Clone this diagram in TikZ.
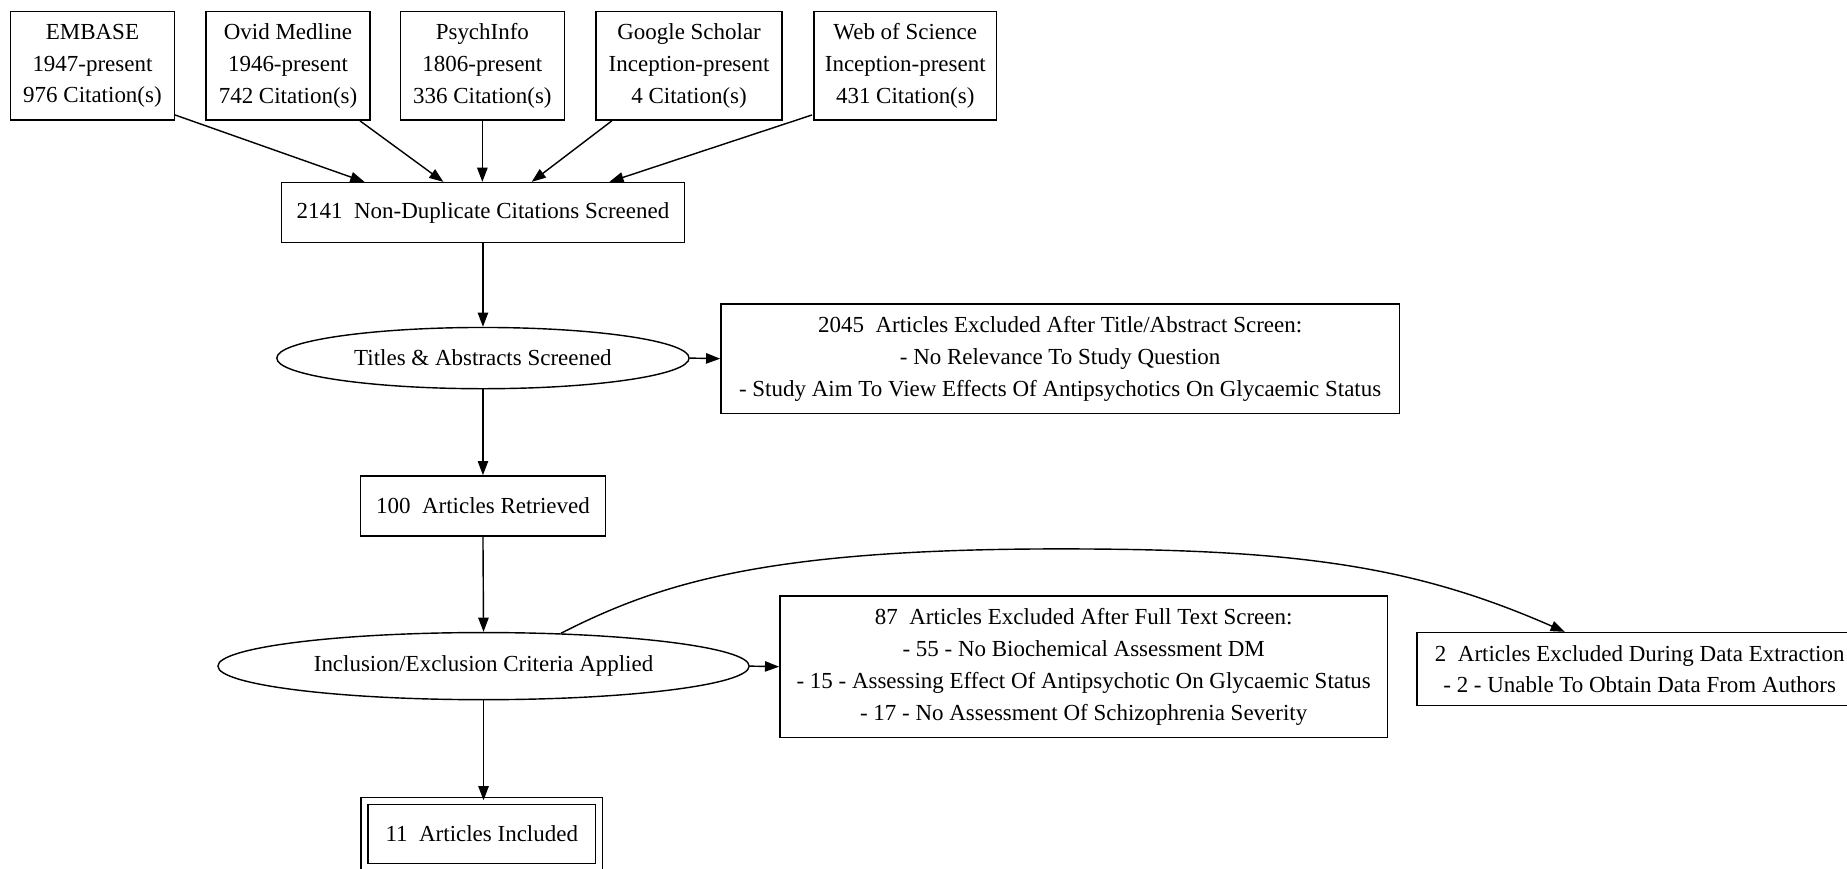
\documentclass[tikz,border=0pt]{standalone}
\usepackage{fontspec}
\setmainfont{Liberation Serif}
\usetikzlibrary{shapes.geometric,arrows.meta,calc}
\begin{document}
\begin{tikzpicture}[x=0.5pt,y=-0.5pt,
  every node/.style={font=\fontsize{9.75}{13.5}\selectfont, align=center, inner sep=0pt},
  box/.style={draw, rectangle, line width=0.6pt},
  oval/.style={draw, ellipse, line width=0.6pt},
  arr/.style={-{Triangle[length=6pt,width=4.4pt]}, line width=0.6pt},
]
\useasboundingbox (0,0) rectangle (1568,737);
% sources
\node[box, minimum width=69.5pt, minimum height=46pt] (embase) at (78.5,56) {EMBASE\\1947-present\\976 Citation(s)};
\node[box, minimum width=69.5pt, minimum height=46pt] (ovid) at (244.5,56) {Ovid Medline\\1946-present\\742 Citation(s)};
\node[box, minimum width=69.5pt, minimum height=46pt] (psych) at (409.5,56) {PsychInfo\\1806-present\\336 Citation(s)};
\node[box, minimum width=79pt, minimum height=46pt] (google) at (585,56) {Google Scholar\\Inception-present\\4 Citation(s)};
\node[box, minimum width=77.5pt, minimum height=46pt] (wos) at (768.5,56) {Web of Science\\Inception-present\\431 Citation(s)};
% main column
\node[box, minimum width=171pt, minimum height=25.5pt] (nondup) at (410,180.5) {2141\ \ Non-Duplicate Citations Screened};
\node[oval, minimum width=175pt, minimum height=26pt] (titles) at (410,304) {Titles \& Abstracts Screened};
\node[box, minimum width=288pt, minimum height=46.5pt] (excl1) at (900,304.5) {2045\ \ Articles Excluded After Title/Abstract Screen:\\- No Relevance To Study Question\\- Study Aim To View Effects Of Antipsychotics On Glycaemic Status};
\node[box, minimum width=104pt, minimum height=25.5pt] (retr) at (410,429.5) {100\ \ Articles Retrieved};
\node[oval, minimum width=225.5pt, minimum height=28.5pt] (incl) at (410.5,565.5) {Inclusion/Exclusion Criteria Applied};
\node[box, minimum width=258pt, minimum height=60pt] (excl2) at (920,566) {87\ \ Articles Excluded After Full Text Screen:\\- 55 - No Biochemical Assessment DM\\- 15 - Assessing Effect Of Antipsychotic On Glycaemic Status\\- 17 - No Assessment Of Schizophrenia Severity};
\node[box, minimum width=189pt, minimum height=31pt] (excl3) at (1392,568) {2\ \ Articles Excluded During Data Extraction\\- 2 - Unable To Obtain Data From Authors};
\node[draw, double, double distance=2.4pt, line width=0.6pt, minimum width=99.5pt, minimum height=28pt] (incd) at (409,708) {11\ \ Articles Included};
% edges
\draw[arr] ($(embase.south east)+(0,-5)$) -- ($(nondup.north west)+(71,0)$);
\draw[arr] ($(ovid.south east)+(-9,0)$) -- ($(nondup.north west)+(138,0)$);
\draw[arr] (psych.south) -- (psych.south |- nondup.north);
\draw[arr] ($(google.south west)+(14,0)$) -- ($(nondup.north west)+(213,0)$);
\draw[arr] ($(wos.south west)+(-1,-5)$) -- ($(nondup.north west)+(279,0)$);
\draw[arr] (nondup.south) -- (titles.north);
\draw[arr] (titles.east) -- (excl1.west);
\draw[arr] (titles.south) -- (retr.north);
\draw[arr] (retr.south) -- (incl.north);
\draw[arr] (incl.east) -- (excl2.west);
\draw[arr] (incl.south) -- (incl.south |- incd.north);
\draw[arr] (incl.23) .. controls (560,495) and (650,466) .. (900,466)
  .. controls (1100,466) and (1200,480) .. ($(excl3.north west)+(126,0)$);
\end{tikzpicture}
\end{document}
